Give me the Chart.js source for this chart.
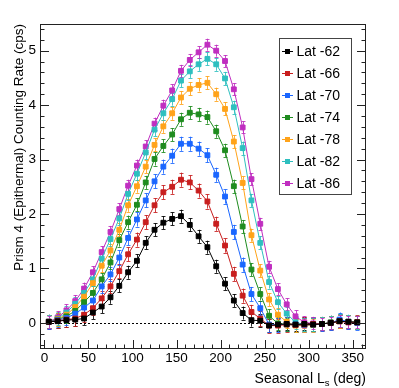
<!DOCTYPE html>
<html>
<head>
<meta charset="utf-8">
<script src="https://cdn.jsdelivr.net/npm/chart.js@4.4.1/dist/chart.umd.min.js"></script>
<style>
  html, body { margin: 0; padding: 0; background: #fff; }
  #wrap { width: 399px; height: 388px; }
</style>
</head>
<body>
<div id="wrap"><canvas id="rateChart" width="399" height="388"></canvas></div>
<script>
// seasonal Ls bin centres (deg)
const seasonalLs = [5, 15, 25, 35, 45, 55, 65, 75, 85, 95, 105, 115, 125, 135, 145, 155, 165, 175,
  185, 195, 205, 215, 225, 235, 245, 255, 265, 275, 285, 295, 305, 315, 325, 335, 345, 355];

const latLabels = ["Lat -62", "Lat -66", "Lat -70", "Lat -74", "Lat -78", "Lat -82", "Lat -86"];
const latColors = ["#000000", "#c81e1e", "#1a66ff", "#1f8c1f", "#ffa31a", "#2ebfbf", "#c02ec0"];
const latErrors = [0.12, 0.13, 0.13, 0.12, 0.12, 0.12, 0.11];

// counting rate (cps)
const lat62 = [0.02, 0.03, 0.05, 0.06, 0.08, 0.19, 0.30, 0.47, 0.68, 0.93, 1.14, 1.47, 1.71, 1.84, 1.91, 1.96, 1.80, 1.59,
  1.39, 1.04, 0.72, 0.41, 0.18, 0.05, 0.04, -0.05, -0.03, -0.02, -0.03, -0.02, -0.03, -0.02, 0.00, 0.03, 0.02, 0.01];
const lat66 = [0.02, 0.04, 0.06, 0.08, 0.15, 0.27, 0.45, 0.67, 0.95, 1.26, 1.53, 1.85, 2.16, 2.40, 2.50, 2.63, 2.58, 2.43,
  2.23, 1.82, 1.42, 0.90, 0.50, 0.20, 0.08, -0.05, -0.05, -0.03, -0.04, -0.03, -0.02, -0.02, 0.00, 0.03, 0.01, 0.01];
const lat70 = [0.02, 0.05, 0.09, 0.17, 0.28, 0.41, 0.67, 0.89, 1.20, 1.56, 1.90, 2.25, 2.60, 2.87, 3.07, 3.29, 3.29, 3.20,
  3.08, 2.72, 2.32, 1.67, 1.07, 0.53, 0.27, -0.03, -0.04, -0.02, -0.03, -0.04, -0.03, -0.02, 0.00, 0.06, 0.02, 0.00];
const lat74 = [0.02, 0.06, 0.12, 0.22, 0.38, 0.55, 0.80, 1.11, 1.52, 1.85, 2.17, 2.58, 3.01, 3.25, 3.46, 3.74, 3.86, 3.83,
  3.78, 3.52, 3.17, 2.51, 1.77, 0.98, 0.53, 0.13, -0.01, -0.03, -0.04, -0.03, -0.03, -0.02, 0.01, 0.04, 0.02, 0.01];
const lat78 = [0.02, 0.07, 0.15, 0.29, 0.48, 0.73, 1.05, 1.33, 1.71, 2.16, 2.51, 2.87, 3.27, 3.61, 3.85, 4.14, 4.30, 4.37,
  4.41, 4.20, 3.93, 3.33, 2.57, 1.61, 0.96, 0.43, 0.15, 0.02, -0.05, -0.05, -0.04, -0.02, 0.00, 0.03, 0.02, 0.01];
const lat82 = [0.02, 0.08, 0.19, 0.35, 0.55, 0.80, 1.18, 1.54, 1.92, 2.37, 2.74, 3.13, 3.55, 3.85, 4.11, 4.45, 4.62, 4.75,
  4.85, 4.75, 4.49, 3.96, 3.21, 2.25, 1.47, 0.75, 0.38, 0.17, 0.01, -0.03, -0.03, -0.02, 0.00, 0.04, 0.02, 0.01];
const lat86 = [0.02, 0.10, 0.23, 0.40, 0.63, 0.93, 1.30, 1.67, 2.09, 2.52, 2.89, 3.24, 3.66, 3.99, 4.27, 4.63, 4.83, 4.97,
  5.11, 5.00, 4.81, 4.29, 3.59, 2.64, 1.82, 1.03, 0.62, 0.34, 0.12, 0.01, -0.01, -0.02, 0.00, 0.03, 0.01, 0.01];

const latSeries = [lat62, lat66, lat70, lat74, lat78, lat82, lat86];

const FONT = "'Liberation Sans', Arial, Helvetica, sans-serif";

// ROOT-like frame, inward ticks, titles, error bars and legend
const rootStyle = {
  id: "rootStyle",
  beforeDatasetsDraw(chart) {
    const ctx = chart.ctx;
    const xs = chart.scales.x, ys = chart.scales.y;
    const area = chart.chartArea;
    // dotted zero line
    ctx.save();
    ctx.strokeStyle = "#000";
    ctx.lineWidth = 1;
    ctx.setLineDash([2, 2]);
    const y0 = Math.round(ys.getPixelForValue(0)) + 0.5;
    ctx.beginPath();
    ctx.moveTo(area.left, y0);
    ctx.lineTo(area.right, y0);
    ctx.stroke();
    ctx.setLineDash([]);
    // error bars
    chart.data.datasets.forEach((ds, i) => {
      const meta = chart.getDatasetMeta(i);
      ctx.strokeStyle = ds.borderColor;
      ctx.globalAlpha = 0.85;
      meta.data.forEach((pt, j) => {
        const v = ds.data[j].y;
        const x = Math.round(pt.x) + 0.5;
        const yt = ys.getPixelForValue(v + ds.err);
        const yb = ys.getPixelForValue(v - ds.err);
        ctx.beginPath();
        ctx.moveTo(x, yt); ctx.lineTo(x, yb);
        ctx.moveTo(x - 2, Math.round(yt) + 0.5); ctx.lineTo(x + 2, Math.round(yt) + 0.5);
        ctx.moveTo(x - 2, Math.round(yb) + 0.5); ctx.lineTo(x + 2, Math.round(yb) + 0.5);
        ctx.stroke();
      });
      ctx.globalAlpha = 1;
    });
    ctx.restore();
  },
  afterDraw(chart) {
    const ctx = chart.ctx;
    const xs = chart.scales.x, ys = chart.scales.y;
    const a = chart.chartArea;
    ctx.save();
    ctx.strokeStyle = "#222";
    ctx.lineWidth = 1;
    // frame
    ctx.strokeRect(Math.round(a.left) + 0.5, Math.round(a.top) + 0.5,
      Math.round(a.right - a.left) - 1, Math.round(a.bottom - a.top) - 1);
    // x ticks (bottom)
    ctx.beginPath();
    for (let v = 0; v <= 360; v += 10) {
      const px = Math.round(xs.getPixelForValue(v)) + 0.5;
      const len = v % 50 === 0 ? 9 : 4.5;
      ctx.moveTo(px, a.bottom);
      ctx.lineTo(px, a.bottom - len);
    }
    // y ticks (left and right)
    for (let k = -2; k <= 27; k++) {
      const v = k * 0.2;
      const py = Math.round(ys.getPixelForValue(v)) + 0.5;
      const len = k % 5 === 0 ? 9 : 4.5;
      ctx.moveTo(a.left, py); ctx.lineTo(a.left + len, py);
      ctx.moveTo(a.right, py); ctx.lineTo(a.right - len, py);
    }
    ctx.stroke();

    // tick labels
    ctx.fillStyle = "#000";
    ctx.font = "13.5px " + FONT;
    ctx.textAlign = "center";
    ctx.textBaseline = "top";
    for (let v = 0; v <= 350; v += 50) {
      ctx.fillText(String(v), xs.getPixelForValue(v), a.bottom + 3);
    }
    ctx.textAlign = "right";
    ctx.textBaseline = "middle";
    for (let v = 0; v <= 5; v++) {
      ctx.fillText(String(v), a.left - 4, ys.getPixelForValue(v));
    }

    // x title with subscript
    ctx.textBaseline = "alphabetic";
    ctx.textAlign = "left";
    const t1 = "Seasonal L", t2 = "s", t3 = " (deg)";
    ctx.font = "14px " + FONT;
    const w1 = ctx.measureText(t1).width, w3 = ctx.measureText(t3).width;
    ctx.font = "9.5px " + FONT;
    const w2 = ctx.measureText(t2).width;
    let tx = a.right - (w1 + w2 + w3);
    const ty = 383;
    ctx.font = "14px " + FONT;
    ctx.fillText(t1, tx, ty);
    ctx.font = "9.5px " + FONT;
    ctx.fillText(t2, tx + w1, ty + 3);
    ctx.font = "14px " + FONT;
    ctx.fillText(t3, tx + w1 + w2, ty);

    // y title
    ctx.save();
    ctx.translate(23, a.top);
    ctx.rotate(-Math.PI / 2);
    ctx.textAlign = "right";
    ctx.font = "13.5px " + FONT;
    ctx.fillText("Prism 4 (Epithermal) Counting Rate (cps)", 0, 0);
    ctx.restore();

    // legend box
    const lx = 279.5, ly = 38.5, lw = 72, lh = 156;
    ctx.fillStyle = "#fff";
    ctx.fillRect(lx, ly, lw, lh);
    ctx.strokeStyle = "#444";
    ctx.strokeRect(lx, ly, lw, lh);
    ctx.font = "14px " + FONT;
    ctx.textAlign = "left";
    ctx.textBaseline = "middle";
    chart.data.datasets.forEach((ds, i) => {
      const cy = Math.round(50.7 + i * 22.1) + 0.5;
      ctx.strokeStyle = ds.borderColor;
      ctx.beginPath();
      ctx.moveTo(282, cy); ctx.lineTo(293, cy);
      ctx.stroke();
      ctx.fillStyle = ds.borderColor;
      ctx.fillRect(285, cy - 2.5, 5, 5);
      ctx.fillStyle = "#000";
      ctx.fillText(ds.label, 296.5, cy + 0.5);
    });
    ctx.restore();
  }
};

const rateChartContext = document.getElementById("rateChart").getContext("2d");

const rateChart = new Chart(rateChartContext, {
  type: "line",
  data: {
    datasets: latSeries.map((vals, i) => ({
      label: latLabels[i],
      data: vals.map((v, j) => ({ x: seasonalLs[j], y: v })),
      err: latErrors[i],
      borderColor: latColors[i],
      backgroundColor: latColors[i],
      borderWidth: 1,
      pointStyle: "rect",
      pointRadius: 3.4,
      pointBorderWidth: 1,
      tension: 0,
      fill: false
    }))
  },
  options: {
    responsive: false,
    animation: false,
    devicePixelRatio: 1,
    layout: { padding: { left: 40, top: 24, right: 33, bottom: 39 } },
    plugins: { legend: { display: false }, tooltip: { enabled: false } },
    scales: {
      x: { type: "linear", min: -5, max: 365, display: false },
      y: { type: "linear", min: -0.48, max: 5.49, display: false }
    }
  },
  plugins: [rootStyle]
});
</script>
</body>
</html>
